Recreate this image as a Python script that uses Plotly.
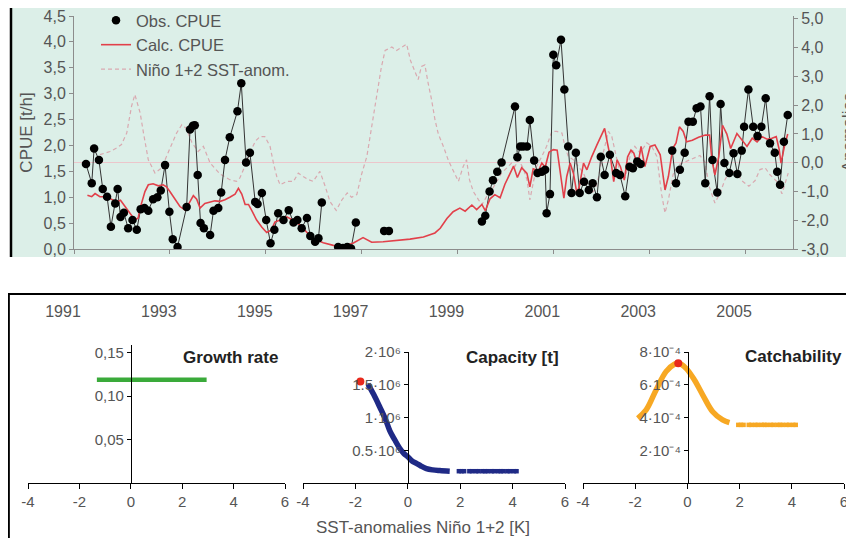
import plotly.graph_objects as go

W, H = 854, 538
OFF = 8  # page body margin of the rendered html

# ---------------- top panel data ----------------
obs_year = [1991.25, 1991.37, 1991.42, 1991.52, 1991.60, 1991.69, 1991.77, 1991.86, 1991.91, 1991.97,
            1992.04, 1992.13, 1992.22, 1992.31, 1992.39, 1992.47, 1992.55, 1992.65, 1992.74, 1992.81,
            1992.90, 1992.99, 1993.06, 1993.16, 1993.35, 1993.42, 1993.48, 1993.52, 1993.58, 1993.64,
            1993.71, 1993.84, 1993.91, 1994.01, 1994.07, 1994.15, 1994.25, 1994.41, 1994.49, 1994.59,
            1994.67, 1994.78, 1994.83, 1994.92, 1995.01, 1995.10, 1995.18, 1995.26, 1995.37, 1995.48,
            1995.58, 1995.66, 1995.75, 1995.86, 1995.93, 1996.03, 1996.10, 1996.17, None,
            1996.51, 1996.61, 1996.70, 1996.78, 1996.88, None,
            1997.47, 1997.57, None,
            1999.51, 1999.58, 1999.67, 1999.74, 1999.83, 1999.92, 2000.20, 2000.25, 2000.31, 2000.37,
            2000.45, 2000.51, 2000.60, 2000.67, 2000.76, 2000.83, 2000.86, 2000.93, 2001.00, 2001.06,
            2001.16, 2001.23, 2001.31, 2001.38, 2001.47, 2001.55, 2001.64, 2001.74, 2001.82, 2001.91,
            2001.99, 2002.07, 2002.18, 2002.31, 2002.39, 2002.50, 2002.59, 2002.66, 2002.75, 2002.82, None,
            2003.48, 2003.56, 2003.64, 2003.74, 2003.82, 2003.91, 2003.99, 2004.07, 2004.17, 2004.26,
            2004.32, 2004.42, 2004.49, 2004.57, 2004.67, 2004.76, 2004.84, 2004.93, 2004.98, 2005.07,
            2005.17, 2005.26, 2005.34, 2005.43, 2005.52, 2005.62, 2005.67, 2005.73, 2005.81, 2005.89]
obs_cpue = [1.64, 1.27, 1.94, 1.72, 1.16, 1.01, 0.43, 0.88, 1.16, 0.62,
            0.70, 0.40, 0.56, 0.37, 0.77, 0.79, 0.74, 0.96, 1.00, 1.13,
            1.62, 0.72, 0.19, 0.04, 0.81, 2.31, 2.38, 2.39, 1.43, 0.50,
            0.40, 0.27, 0.74, 0.79, 1.09, 1.72, 2.16, 2.66, 3.20, 1.67,
            1.86, 0.91, 0.87, 1.08, 0.56, 0.11, 0.37, 0.69, 0.56, 0.75,
            0.51, 0.56, 0.40, 0.60, 0.25, 0.14, 0.21, 0.90, None,
            0.04, 0.02, 0.04, 0.01, 0.51, None,
            0.35, 0.35, None,
            0.53, 0.64, 1.11, 1.33, 1.49, 1.67, 2.75, 1.77, 1.98, 1.98,
            1.98, 2.49, 1.71, 1.47, 1.49, 1.53, 0.69, 1.06, 3.75, 3.55,
            4.04, 3.08, 1.98, 1.08, 1.86, 1.08, 1.30, 1.14, 1.27, 1.00,
            1.78, 1.43, 1.82, 1.47, 1.43, 1.02, 1.59, 1.56, 1.69, 1.64, None,
            1.90, 1.27, 1.53, 1.86, 2.46, 2.46, 2.72, 2.75, 1.27, 2.95,
            1.72, 1.09, 2.80, 1.66, 1.47, 1.85, 1.45, 1.90, 2.36, 3.08,
            2.36, 2.18, 2.36, 2.91, 2.04, 1.86, 1.49, 1.24, 2.07, 2.59]

calc_year = [1991.28, 1991.37, 1991.44, 1991.54, 1991.68, 1991.79, 1991.89, 1991.97, 1992.06, 1992.17,
             1992.27, 1992.34, 1992.38, 1992.48, 1992.55, 1992.65, 1992.76, 1992.86, 1992.93, 1993.00,
             1993.11, 1993.21, 1993.32, 1993.42, 1993.49, 1993.56, 1993.63, 1993.73, 1993.84, 1993.94,
             1994.05, 1994.15, 1994.25, 1994.36, 1994.43, 1994.50, 1994.57, 1994.64, 1994.71, 1994.81,
             1994.92, 1995.02, 1995.12, 1995.19, 1995.30, 1995.44, 1995.58, 1995.72, 1995.86, 1995.99,
             1996.20, 1996.41, 1996.62, 1996.82, 1997.03, 1997.21, 1997.45, 1997.73, 1998.01, 1998.29,
             1998.53, 1998.64, 1998.78, 1998.91, 1999.05, 1999.16, 1999.30, 1999.40, 1999.51, 1999.58,
             1999.68, 1999.78, 1999.89, 1999.99, 2000.10, 2000.17, 2000.25, 2000.34, 2000.45, 2000.51,
             2000.58, 2000.69, 2000.76, 2000.83, 2000.91, 2001.00, 2001.08, 2001.18, 2001.22, 2001.28,
             2001.35, 2001.42, 2001.49, 2001.54, 2001.63, 2001.70, 2001.80, 2001.91, 2002.01, 2002.07,
             2002.13, 2002.20, 2002.26, 2002.33, 2002.40, 2002.48, 2002.55, 2002.62, 2002.68, 2002.76,
             2002.83, 2002.91, 2003.02, 2003.12, 2003.23, 2003.33, 2003.40, 2003.49, 2003.56, 2003.63,
             2003.71, 2003.78, 2003.90, 2004.03, 2004.17, 2004.26, 2004.31, 2004.37, 2004.45, 2004.53,
             2004.62, 2004.70, 2004.83, 2004.93, 2005.04, 2005.15, 2005.25, 2005.35, 2005.46, 2005.56,
             2005.65, 2005.71, 2005.75, 2005.82, 2005.89]
calc_cpue = [1.04, 1.01, 1.07, 1.01, 1.01, 0.95, 0.91, 0.94, 0.82, 0.69,
             0.56, 0.60, 0.79, 1.11, 1.24, 1.26, 1.22, 1.24, 1.20, 1.11,
             0.95, 0.82, 0.75, 0.90, 1.03, 0.96, 0.79, 0.88, 0.91, 0.93,
             0.92, 0.95, 1.00, 1.06, 1.17, 1.06, 0.86, 0.86, 0.74, 0.56,
             0.42, 0.32, 0.37, 0.52, 0.56, 0.62, 0.55, 0.46, 0.32, 0.20,
             0.12, 0.07, 0.06, 0.11, 0.22, 0.13, 0.14, 0.16, 0.19, 0.23,
             0.31, 0.40, 0.59, 0.72, 0.79, 0.73, 0.85, 0.76, 0.86, 0.74,
             0.97, 1.05, 0.99, 1.25, 1.46, 1.60, 1.38, 1.57, 1.46, 1.20,
             1.55, 1.51, 1.66, 1.58, 1.87, 1.92, 1.91, 1.20, 0.98, 1.40,
             1.66, 1.46, 1.08, 1.20, 1.66, 1.53, 1.78, 2.01, 2.20, 2.33,
             2.04, 1.72, 1.30, 1.72, 1.59, 1.33, 1.78, 1.91, 1.85, 1.60,
             1.98, 1.59, 1.98, 2.01, 1.82, 1.14, 1.40, 1.94, 2.05, 2.36,
             2.27, 2.07, 2.10, 2.16, 2.20, 2.20, 1.71, 1.43, 1.78, 2.39,
             2.22, 1.94, 2.23, 2.10, 1.98, 2.14, 2.07, 2.17, 2.12, 2.14,
             2.17, 1.93, 1.66, 1.98, 2.22]

sst_year = [1991.54, 1991.75, 1991.89, 1991.99, 1992.10, 1992.20, 1992.27, 1992.38, 1992.45, 1992.55,
            1992.69, 1992.83, 1992.93, 1993.04, 1993.14, 1993.25, 1993.34, 1993.46, 1993.59, 1993.70,
            1993.84, 1994.05, 1994.25, 1994.39, 1994.46, 1994.57, 1994.67, 1994.78, 1994.88, 1994.98,
            1995.09, 1995.16, 1995.23, 1995.30, 1995.44, 1995.58, 1995.68, 1995.78, 1995.89, 1995.99,
            1996.13, 1996.24, 1996.34, 1996.47, 1996.59, 1996.70, 1996.79, 1996.90, 1997.00, 1997.11,
            1997.21, 1997.32, 1997.41, 1997.49, 1997.63, 1997.73, 1997.84, 1997.94, 1998.02, 1998.11,
            1998.18, 1998.25, 1998.32, 1998.39, 1998.46, 1998.53, 1998.60, 1998.71, 1998.81, 1998.91,
            1999.02, 1999.12, 1999.19, 1999.25, 1999.33, 1999.44, 1999.51, 1999.61, 1999.72, 1999.82,
            1999.92, 2000.03, 2000.13, 2000.20, 2000.27, 2000.37, 2000.45, 2000.51, 2000.58, 2000.65,
            2000.76, 2000.86, 2000.97, 2001.07, 2001.18, 2001.24, 2001.31, 2001.42, 2001.52, 2001.63,
            2001.73, 2001.80, 2001.87, 2001.94, 2002.04, 2002.15, 2002.22, 2002.29, 2002.39, 2002.50,
            2002.60, 2002.70, 2002.81, 2002.95, 2003.05, 2003.16, 2003.26, 2003.33, 2003.40, 2003.50,
            2003.64, 2003.85, 2004.06, 2004.17, 2004.25, 2004.37, 2004.48, 2004.58, 2004.69, 2004.83,
            2004.93, 2005.08, 2005.21, 2005.31, 2005.42, 2005.52, 2005.66, 2005.77, 2005.83, 2005.90]
sst_anom = [0.28, 0.39, 0.51, 0.63, 1.03, 1.96, 2.37, 1.73, 1.03, 0.10,
            -0.36, -0.18, 0.22, 0.63, 1.03, 1.32, 1.20, 0.70, 0.39, 0.57,
            -0.01, -0.40, -0.59, -0.65, -0.53, -0.10, 0.34, 0.74, 0.91, 0.91,
            0.57, -0.01, -0.48, -0.77, -0.65, -0.65, -0.36, -0.48, -0.59, -0.65,
            -0.30, -0.82, -1.35, -1.66, -1.29, -1.05, -1.20, -1.11, -0.40, 0.22,
            1.26, 2.40, 3.30, 3.90, 4.02, 3.90, 4.00, 4.12, 3.55, 3.20,
            2.89, 3.35, 3.40, 2.75, 2.19, 1.50, 1.00, 0.55, 0.08, -0.27,
            -0.65, -0.13, 0.10, -0.59, -1.00, -1.29, -1.46, -1.17, -0.94, -0.65,
            -0.36, -0.18, -0.01, -0.13, 0.10, -0.18, -0.59, -1.29, -0.65, -0.13,
            0.22, 0.57, 1.09, 1.09, 1.03, 0.57, 0.22, 0.10, -0.13, -0.36,
            -0.82, -1.05, -0.94, -0.53, 0.34, 1.09, 0.91, 0.34, -0.36, -0.53,
            0.22, 0.57, 0.34, 0.69, 0.57, 0.22, -1.11, -1.75, -1.29, -0.40,
            -0.05, 0.10, 0.25, 0.00, -0.82, -1.40, -1.05, -0.59, -0.27, -0.36,
            -0.62, -0.82, -0.62, -0.24, -0.18, -0.42, -0.65, -1.08, -0.77, -0.36]

year_ticks = [1991, 1993, 1995, 1997, 1999, 2001, 2003, 2005]
cpue_ticks = [0.0, 0.5, 1.0, 1.5, 2.0, 2.5, 3.0, 3.5, 4.0, 4.5]
cpue_labels = ["0,0", "0,5", "1,0", "1,5", "2,0", "2,5", "3,0", "3,5", "4,0", "4,5"]
anom_ticks = [-3, -2, -1, 0, 1, 2, 3, 4, 5]
anom_labels = ["-3,0", "-2,0", "-1,0", "0,0", "1,0", "2,0", "3,0", "4,0", "5,0"]

# ---------------- bottom panels data ----------------
k_ticks = [-4, -2, 0, 2, 4, 6]
k_labels = ["-4", "-2", "0", "2", "4", "6"]

growth_sst = [-1.32, -0.6, 0.0, 0.8, 1.45, 1.55, 2.2, 2.95]
growth_rate = [0.119, 0.119, 0.119, 0.119, 0.119, 0.119, 0.119, 0.119]
growth_ticks = [0.05, 0.10, 0.15]
growth_labels = ["0,05", "0,10", "0,15"]

cap_sst = [-1.52, -1.30, -1.07, -0.85, -0.69, -0.50, -0.31, -0.15, 0.0, 0.15, 0.33, 0.50, 0.71, 0.95, 1.22, 1.60]
cap_val = [1.51e6, 1.35e6, 1.16e6, 0.97e6, 0.80e6, 0.66e6, 0.53e6, 0.45e6, 0.40e6, 0.34e6, 0.30e6,
           0.26e6, 0.22e6, 0.20e6, 0.19e6, 0.18e6]
cap_sparse_sst = [1.95, 2.05, 2.15, 2.35, 2.45, 2.6, 2.7, 2.85, 2.95, 3.05, 3.2, 3.3, 3.45, 3.55, 3.65, 3.8, 3.9, 4.05, 4.15]
cap_sparse_val = [0.18e6] * len(cap_sparse_sst)
cap_opt_sst, cap_opt_val = [-1.81], [1.55e6]
cap_ticks = [0.5e6, 1e6, 1.5e6, 2e6]
cap_labels = ["0.5·10⁶", "1·10⁶", "1.5·10⁶", "2·10⁶"]

catch_sst = [-1.90, -1.58, -1.20, -0.82, -0.50, -0.33, -0.05, 0.27, 0.59, 0.97, 1.35, 1.61]
catch_val = [3.95e-4, 4.46e-4, 5.68e-4, 6.80e-4, 7.25e-4, 7.31e-4, 7.0e-4, 6.29e-4, 5.37e-4, 4.35e-4, 3.85e-4, 3.68e-4]
catch_sparse_sst = [1.95, 2.05, 2.15, 2.35, 2.45, 2.6, 2.7, 2.85, 2.95, 3.05, 3.2, 3.3, 3.45, 3.55, 3.65, 3.8, 3.9, 4.05, 4.15]
catch_sparse_val = [3.55e-4] * len(catch_sparse_sst)
catch_opt_sst, catch_opt_val = [-0.35], [7.31e-4]
catch_ticks = [2e-4, 4e-4, 6e-4, 8e-4]
catch_labels = ["2·10⁻⁴", "4·10⁻⁴", "6·10⁻⁴", "8·10⁻⁴"]

# ---------------- style ----------------
FONT = "Liberation Sans, Arial, sans-serif"
TXT = "#555555"
AX = "#8c8c8c"
MINT = "#dcefe8"
RED = "#e2404a"
PINK = "#d9a9b0"
NAVY = "#1f2a86"
ORANGE = "#f7a823"
GREEN = "#3aaa3a"
OPT = "#e8291c"


def px(x):
    return max(x - OFF, 0) / W


def py(y):
    return 1 - (y - OFF) / H


fig = go.Figure()

# SST anomalies on base axis (drawn below CPUE)
fig.add_trace(go.Scatter(x=sst_year, y=sst_anom, xaxis="x", yaxis="y", mode="lines",
                         line=dict(color=PINK, width=1.2, dash="4px,3px"),
                         name="Niño 1+2 SST-anom.", legendrank=3))
fig.add_trace(go.Scatter(x=obs_year, y=obs_cpue, xaxis="x", yaxis="y2", mode="lines",
                         line=dict(color="#333333", width=1), connectgaps=False,
                         showlegend=False, hoverinfo="skip"))
fig.add_trace(go.Scatter(x=calc_year, y=calc_cpue, xaxis="x", yaxis="y2", mode="lines",
                         line=dict(color=RED, width=1.6), name="Calc. CPUE", legendrank=2))
fig.add_trace(go.Scatter(x=obs_year, y=obs_cpue, xaxis="x", yaxis="y2", mode="markers",
                         marker=dict(color="black", size=8.5), name="Obs. CPUE", legendrank=1))

# bottom panels
fig.add_trace(go.Scatter(x=growth_sst, y=growth_rate, xaxis="x3", yaxis="y3", mode="lines",
                         line=dict(color=GREEN, width=4.5), showlegend=False))
fig.add_trace(go.Scatter(x=cap_sst, y=cap_val, xaxis="x4", yaxis="y4", mode="lines",
                         line=dict(color=NAVY, width=5.5, shape="spline"), showlegend=False))
fig.add_trace(go.Scatter(x=cap_sparse_sst, y=cap_sparse_val, xaxis="x4", yaxis="y4", mode="markers",
                         marker=dict(color=NAVY, size=4.5, symbol="square"), showlegend=False))
fig.add_trace(go.Scatter(x=cap_opt_sst, y=cap_opt_val, xaxis="x4", yaxis="y4", mode="markers",
                         marker=dict(color=OPT, size=8), showlegend=False))
fig.add_trace(go.Scatter(x=catch_sst, y=catch_val, xaxis="x5", yaxis="y5", mode="lines",
                         line=dict(color=ORANGE, width=5.5, shape="spline"), showlegend=False))
fig.add_trace(go.Scatter(x=catch_sparse_sst, y=catch_sparse_val, xaxis="x5", yaxis="y5", mode="markers",
                         marker=dict(color=ORANGE, size=4.5, symbol="square"), showlegend=False))
fig.add_trace(go.Scatter(x=catch_opt_sst, y=catch_opt_val, xaxis="x5", yaxis="y5", mode="markers",
                         marker=dict(color=OPT, size=8), showlegend=False))

top_dom = [py(249), py(16)]
tick_font_top = dict(family=FONT, size=16, color=TXT)
tick_font_bot = dict(family=FONT, size=15, color=TXT)

bot_x = dict(range=[-4, 6], showline=True, linecolor="black", linewidth=1.3, ticks="outside",
             ticklen=5, tickcolor="black", tickwidth=1.3, tickvals=k_ticks, ticktext=k_labels,
             tickfont=tick_font_bot, showgrid=False, zeroline=False, automargin=False,
             ticklabeloverflow="allow")
bot_y = dict(anchor="free", showline=True, linecolor="black", linewidth=1.3, ticks="outside",
             ticklen=4, tickcolor="black", tickwidth=1.3, tickfont=tick_font_bot,
             showgrid=False, zeroline=False, automargin=False, ticklabeloverflow="allow")

fig.update_layout(
    width=W, height=H,
    margin=dict(l=0, r=0, t=0, b=0, pad=0, autoexpand=False),
    paper_bgcolor="white",
    plot_bgcolor="rgba(0,0,0,0)",
    font=dict(family=FONT, color=TXT),
    xaxis=dict(domain=[px(74), px(793)], range=[1991, 2006], anchor="y",
               showline=True, linecolor=AX, linewidth=1, ticks="outside", ticklen=4, tickcolor=AX,
               tickvals=year_ticks, ticktext=[str(y) for y in year_ticks], tickfont=tick_font_top,
               ticklabelstandoff=44, ticklabelshift=-11, showgrid=False, zeroline=False,
               automargin=False, ticklabeloverflow="allow"),
    yaxis=dict(domain=top_dom, range=[-3, 5.1], side="right", anchor="x",
               showline=True, linecolor=AX, linewidth=1, ticks="outside", ticklen=4, tickcolor=AX,
               tickvals=anom_ticks, ticktext=anom_labels, tickfont=tick_font_top,
               showgrid=False, zeroline=True, zerolinecolor="#ecc6cb", zerolinewidth=1,
               automargin=False, ticklabeloverflow="allow"),
    yaxis2=dict(overlaying="y", side="left", anchor="x", range=[0, 4.5],
                showline=True, linecolor=AX, linewidth=1, ticks="outside", ticklen=4, tickcolor=AX,
                tickvals=cpue_ticks, ticktext=cpue_labels, tickfont=tick_font_top,
                title=dict(text="CPUE [t/h]", font=dict(family=FONT, size=17, color=TXT), standoff=6),
                showgrid=False, zeroline=False, automargin=False, ticklabeloverflow="allow"),
    xaxis3=dict(domain=[px(28), px(285)], anchor="y3", **bot_x),
    yaxis3=dict(domain=[py(483), py(345)], range=[0, 0.159], position=px(131),
                tickvals=growth_ticks, ticktext=growth_labels, **bot_y),
    xaxis4=dict(domain=[px(303), px(565)], anchor="y4", **bot_x),
    yaxis4=dict(domain=[py(483), py(352)], range=[0, 2e6], position=px(408),
                tickvals=cap_ticks, ticktext=cap_labels, **bot_y),
    xaxis5=dict(domain=[px(583), px(844)], anchor="y5", **bot_x),
    yaxis5=dict(domain=[py(483), py(352)], range=[0, 8e-4], position=px(688),
                tickvals=catch_ticks, ticktext=catch_labels, **bot_y),
    legend=dict(x=px(96), y=py(3), xanchor="left", yanchor="top", bgcolor="rgba(0,0,0,0)",
                font=dict(family=FONT, size=16.5, color=TXT), itemwidth=30, tracegroupgap=0),
    showlegend=True,
)

shapes = [
    dict(type="rect", xref="paper", yref="paper", x0=px(12), x1=1, y0=py(257), y1=1,
         fillcolor=MINT, line=dict(width=0), layer="below"),
    dict(type="rect", xref="paper", yref="paper", x0=0, x1=1, y0=py(293), y1=py(257),
         fillcolor="white", line=dict(width=0), layer="above"),
    dict(type="line", xref="paper", yref="paper", x0=px(11), x1=px(11), y0=py(257), y1=1,
         line=dict(color="black", width=2.5), layer="above"),
    dict(type="line", xref="paper", yref="paper", x0=0, x1=1, y0=py(294), y1=py(294),
         line=dict(color="black", width=2), layer="above"),
    dict(type="line", xref="paper", yref="paper", x0=0.001, x1=0.001, y0=py(294), y1=0,
         line=dict(color="black", width=2), layer="above"),
]
fig.update_layout(shapes=shapes)


def label(text, x, y, size=17, color=TXT, angle=0):
    return dict(text=text, x=px(x), y=py(y), xref="paper", yref="paper", xanchor="center",
                yanchor="middle", textangle=angle, showarrow=False,
                font=dict(family=FONT, size=size, color=color))


annotations = [
    label("<b>Growth rate</b>", 230, 357, color="#222222"),
    label("<b>Capacity [t]</b>", 512, 357, color="#222222"),
    label("<b>Catchability</b>", 793, 356, color="#222222"),
    label("SST-anomalies Niño 1+2 [K]", 423, 527),
    label("Anomalies", 848, 133, angle=-90),
]
fig.update_layout(annotations=annotations)

fig.write_html("out.html")
